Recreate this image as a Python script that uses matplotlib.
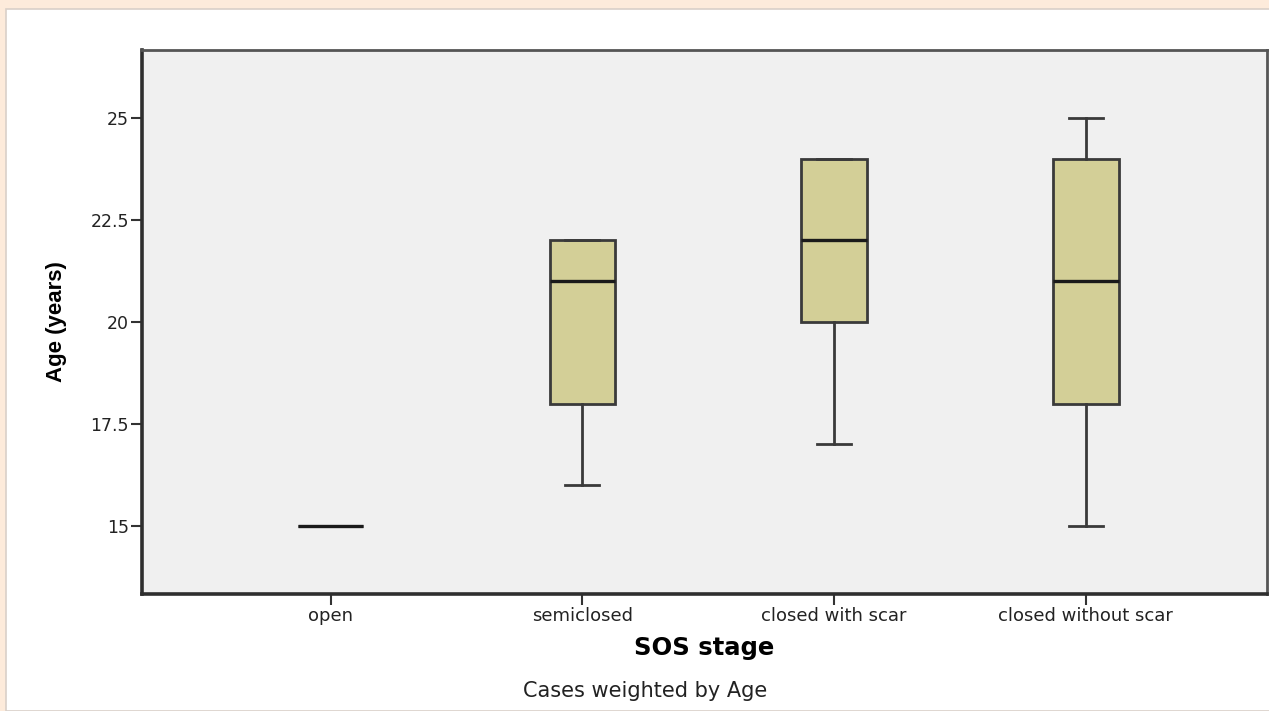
import matplotlib.pyplot as plt
from matplotlib.patches import Rectangle

# SOS stage groups and their age summaries (years)
stages = ["open", "semiclosed", "closed with scar", "closed without scar"]
whislo = [15, 16, 17, 15]
q1 = [15, 18, 20, 18]
med = [15, 21, 22, 21]
q3 = [15, 22, 24, 24]
whishi = [15, 22, 24, 25]

yticks = [15, 17.5, 20, 22.5, 25]
ytick_labels = ["15", "17.5", "20", "22.5", "25"]

fig = plt.figure(figsize=(12.69, 7.11), dpi=100)
fig.patch.set_facecolor("#fdebdb")
# white page panel behind the chart
fig.patches.append(Rectangle((6 / 1269, 0), 1.0, 1 - 9 / 711, transform=fig.transFigure,
                             facecolor="white", edgecolor="#d9d0c8", lw=1.2, zorder=-5))

ax = fig.add_axes([142 / 1269, 1 - 594 / 711, (1267 - 142) / 1269, (594 - 50) / 711])
ax.set_zorder(2)
ax.set_facecolor("#f0f0f0")

stats = []
for i, name in enumerate(stages):
    stats.append(dict(label=name, whislo=whislo[i], q1=q1[i], med=med[i],
                      q3=q3[i], whishi=whishi[i], fliers=[]))

ax.bxp(stats, positions=range(len(stages)), widths=0.26, patch_artist=True,
       capwidths=0.135, showfliers=False,
       boxprops=dict(facecolor="#d3cf97", edgecolor="#3a3a3a", linewidth=2),
       medianprops=dict(color="#1a1a1a", linewidth=2.4),
       whiskerprops=dict(color="#3a3a3a", linewidth=2),
       capprops=dict(color="#3a3a3a", linewidth=2))

ax.set_xlim(-0.75, 3.72)
ax.set_ylim(13.33, 26.67)
ax.set_yticks(yticks)
ax.set_yticklabels(ytick_labels)
ax.set_xticks(range(len(stages)))
ax.set_xticklabels(stages)

for lab in ax.get_xticklabels():
    lab.set_family("DejaVu Sans")
    lab.set_fontsize(13)
    lab.set_color("#222222")
for lab in ax.get_yticklabels():
    lab.set_family("DejaVu Sans")
    lab.set_fontsize(12.5)
    lab.set_color("#222222")

ax.tick_params(axis="both", length=8, width=1.5, color="#333333", pad=1.5)

for side in ["left", "bottom"]:
    ax.spines[side].set_linewidth(2.6)
    ax.spines[side].set_color("#2e2e2e")
for side in ["top", "right"]:
    ax.spines[side].set_linewidth(2.0)
    ax.spines[side].set_color("#555555")

ax.set_ylabel("Age (years)", family="Liberation Sans",
              fontsize=16, fontweight="bold", labelpad=17)
ax.set_xlabel("SOS stage", family="DejaVu Sans", fontsize=17.5,
              fontweight="bold", labelpad=8)

fig.text(645 / 1269, 1 - 691 / 711, "Cases weighted by Age",
         family="DejaVu Sans", fontsize=15, color="#222222", ha="center", va="center")

fig.savefig("out.png", dpi=100, facecolor=fig.get_facecolor())
